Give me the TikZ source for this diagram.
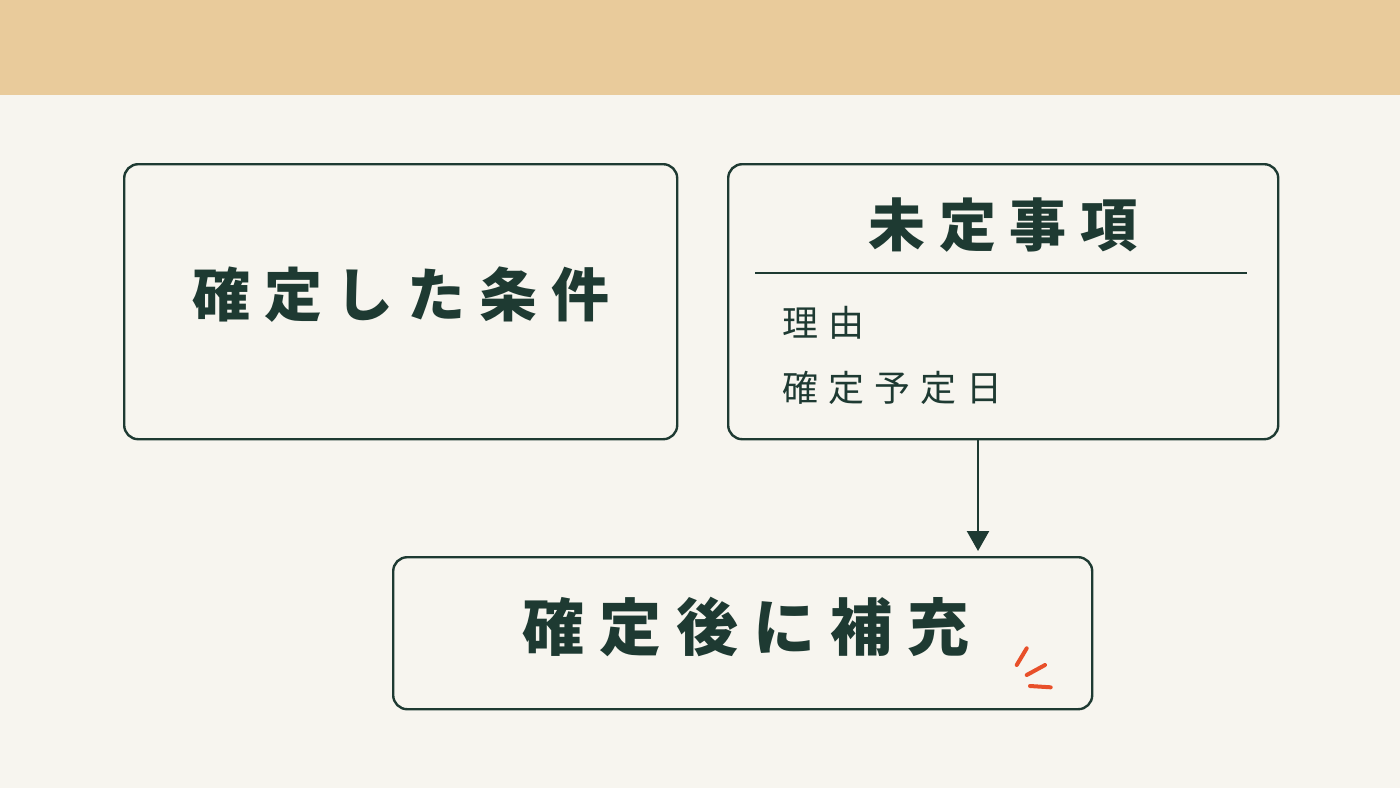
\documentclass[tikz,border=0pt]{standalone}
\usepackage{fontspec}
\usetikzlibrary{arrows.meta}
\newfontfamily\jpA[LetterSpace=24]{Noto Sans CJK JP}
\newfontfamily\jpB[LetterSpace=28]{Noto Sans CJK JP}
\definecolor{bg}{HTML}{F7F5EF}
\definecolor{band}{HTML}{E9CB9B}
\definecolor{ink}{HTML}{1E3A32}
\definecolor{accent}{HTML}{E8502A}
\tikzset{
  box/.style={draw=ink, line width=1.2pt, rounded corners=7pt, inner sep=0pt, anchor=north west},
  bigtext/.style={text=ink, inner sep=0pt},
  smalltext/.style={text=ink, font=\jpB\fontsize{18pt}{20pt}\selectfont, inner sep=0pt, anchor=west},
  accentmark/.style={draw=accent, line width=2pt, line cap=round}
}
\begin{document}
\begin{tikzpicture}[x=0.5pt,y=-0.5pt]
\useasboundingbox (0,0) rectangle (1400,788);
\fill[bg] (0,0) rectangle (1400,788);
\fill[band] (0,0) rectangle (1400,95);
% box 1
\node[box, minimum width=276.5pt, minimum height=137.5pt] (b1) at (123,163) {};
\node[bigtext, font=\jpA\bfseries\fontsize{29pt}{30pt}\selectfont] (t1) at (401,295) {確定した条件};
% box 2
\node[box, minimum width=275pt, minimum height=137.5pt] (b2) at (727,163) {};
\node[bigtext, font=\jpA\bfseries\fontsize{28.5pt}{30pt}\selectfont] (t2) at (1003,225) {未定事項};
\coordinate (d1) at (755,273);
\coordinate (d2) at (1247,273);
\draw[ink, line width=1pt] (d1) -- (d2);
\node[smalltext] (i1) at (782,323) {理由};
\node[smalltext] (i2) at (782,388) {確定予定日};
% box 3
\node[box, minimum width=349.5pt, minimum height=76pt] (b3) at (392,556) {};
\node[bigtext, font=\jpA\bfseries\fontsize{31pt}{32pt}\selectfont] (t3) at (746,627) {確定後に補充};
% arrow
\coordinate (a1) at (978,438);
\coordinate (a2) at (978,551);
\draw[ink, line width=1.2pt, -{Triangle[length=10pt,width=11pt]}] (a1) -- (a2);
% accent marks
\draw[accentmark] (1026.7,648.3) -- (1016.7,665);
\draw[accentmark] (1045,665) -- (1026.7,675);
\draw[accentmark] (1030,686) -- (1050.7,687.3);
\end{tikzpicture}
\end{document}
